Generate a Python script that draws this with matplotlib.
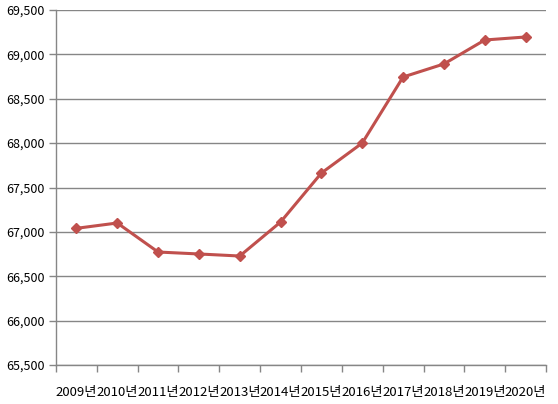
import matplotlib
matplotlib.use('Agg')
import matplotlib.pyplot as plt
from matplotlib.ticker import FuncFormatter, FixedLocator

plt.rcParams['font.family'] = ['Noto Sans CJK KR', 'DejaVu Sans']

years = ['2009년', '2010년', '2011년', '2012년', '2013년', '2014년',
         '2015년', '2016년', '2017년', '2018년', '2019년', '2020년']
values = [67040, 67100, 66773, 66751, 66728, 67111,
          67663, 68001, 68745, 68892, 69162, 69196]

grey = '#868686'
red = '#C0504D'

fig = plt.figure(figsize=(5.58, 4.04), dpi=100)
ax = fig.add_axes([56 / 558, 39 / 404, 490 / 558, 355 / 404])

x = list(range(len(years)))
ax.plot(x, values, color=red, linewidth=2.2, marker='D', markersize=5.5,
        markerfacecolor=red, markeredgecolor=red, zorder=3)

ax.set_xlim(-0.5, len(years) - 0.5)
ax.set_ylim(65500, 69500)
ax.set_yticks(range(65500, 69501, 500))
ax.yaxis.set_major_formatter(FuncFormatter(lambda v, p: f'{int(v):,}'))
ax.grid(axis='y', color=grey, linewidth=1)
ax.set_axisbelow(True)

ax.set_xticks(x)
ax.set_xticklabels(years)
ax.xaxis.set_minor_locator(FixedLocator([i - 0.5 for i in range(len(years) + 1)]))
ax.tick_params(axis='x', which='major', length=0, pad=15, labelsize=9.5)
ax.tick_params(axis='x', which='minor', length=5, color=grey, width=1)
ax.tick_params(axis='y', length=5, color=grey, width=1, labelsize=9, pad=3)

for side in ['top', 'right']:
    ax.spines[side].set_visible(False)
for side in ['left', 'bottom']:
    ax.spines[side].set_color(grey)
    ax.spines[side].set_linewidth(1)

fig.savefig('out.png', dpi=100)
